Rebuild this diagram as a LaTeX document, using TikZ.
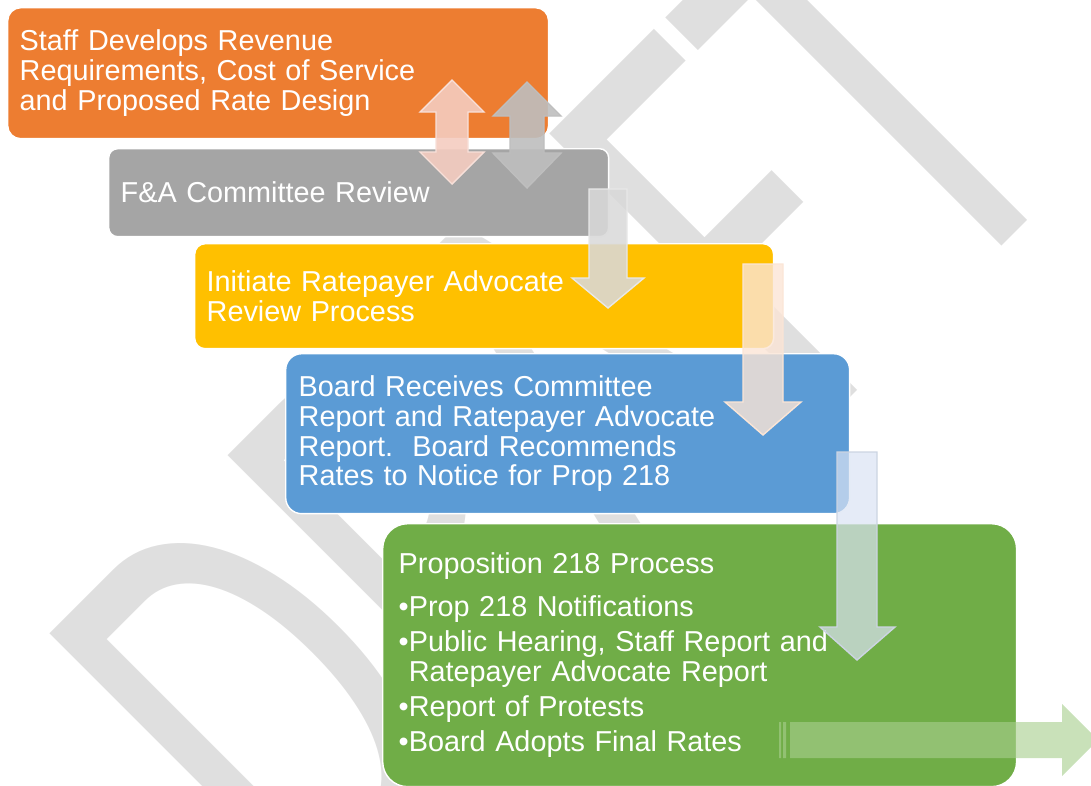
\documentclass[tikz,border=0pt]{standalone}
\usepackage{fontspec}
\setmainfont{Liberation Sans}
\newfontfamily\draftfont{Carlito}
\usepackage{tikz}

\definecolor{stageorange}{HTML}{ED7D31}
\definecolor{stagegray}{HTML}{A5A5A5}
\definecolor{stageyellow}{HTML}{FFC000}
\definecolor{stageblue}{HTML}{5B9BD5}
\definecolor{stagegreen}{HTML}{70AD47}
\definecolor{markgray}{HTML}{DFDFDF}
\definecolor{pinkarrow}{HTML}{F4CCC0}
\definecolor{grayarrow}{HTML}{BEBEBE}
\definecolor{lightarrow}{HTML}{D9D9D9}
\definecolor{peacharrow}{HTML}{FBE5D6}
\definecolor{bluearrow}{HTML}{DAE3F3}
\definecolor{greenarrow}{HTML}{A8CE8E}

\begin{document}
\begin{tikzpicture}[
        x=0.02cm, y=0.02cm,
        stage/.style={draw=white, line width=0.8pt, text=white, align=left,
            anchor=north west, inner ysep=0pt, inner xsep=0.24cm,
            font=\fontsize{16.4}{17}\selectfont},
        watermark/.style={text=markgray, inner sep=0pt, anchor=base west,
            transform shape, font=\draftfont\fontsize{354}{354}\selectfont},
        blockarrow/.style={line width=0.8pt, line join=miter}
    ]
    \useasboundingbox (0,0) rectangle (1091,-785);
    \clip (0,0) rectangle (1091,-785);

    \begin{scope}[shift={(312,-936)}, rotate=45, xscale=0.655]
        \node[watermark] (draftmark) at (0,0) {DRAFT};
    \end{scope}

    \node[stage, fill=stageorange, rounded corners=0.26cm, minimum width=10.82cm,
        minimum height=2.62cm, text width=10.34cm] (develop) at (7,-7)
        {Staff Develops Revenue\\Requirements, Cost of Service\\and Proposed Rate Design};
    \node[stage, fill=stagegray, rounded corners=0.18cm, minimum width=10cm,
        minimum height=1.76cm, text width=9.52cm] (review) at (108,-148)
        {F\&A Committee Review};
    \node[stage, fill=stageyellow, rounded corners=0.21cm, minimum width=11.58cm,
        minimum height=2.1cm, text width=11.1cm] (advocate) at (194,-243)
        {Initiate Ratepayer Advocate\\Review Process};
    \node[stage, fill=stageblue, rounded corners=0.32cm, inner xsep=0.26cm,
        minimum width=11.28cm, minimum height=3.2cm, text width=10.76cm] (board) at (285,-353)
        {Board Receives Committee\\Report and Ratepayer Advocate\\Report.\ \ Board Recommends\\Rates to Notice for Prop 218};
    \node[stage, fill=stagegreen, rounded corners=0.5cm, inner xsep=0.32cm,
        minimum width=12.68cm, minimum height=5.26cm, text width=12.04cm] (prop) at (382,-523)
        {Proposition 218 Process\\[7.4pt]
        •Prop 218 Notifications\\[2.9pt]
        •Public Hearing, Staff Report and\\
        \phantom{•}Ratepayer Advocate Report\\[2.9pt]
        •Report of Protests\\[2.9pt]
        •Board Adopts Final Rates};

    \filldraw[blockarrow, fill=pinkarrow, fill opacity=0.9, draw=pinkarrow!60!white]
        (452,-80) -- (484,-112) -- (468,-112) -- (468,-152) -- (484,-152) -- (452,-184)
        -- (420,-152) -- (436,-152) -- (436,-112) -- (420,-112) -- cycle;
    \filldraw[blockarrow, fill=grayarrow, fill opacity=0.9, draw=grayarrow]
        (527,-82) -- (561,-116) -- (544,-116) -- (544,-153) -- (561,-153) -- (527,-188)
        -- (493,-153) -- (510,-153) -- (510,-116) -- (493,-116) -- cycle;
    \filldraw[blockarrow, fill=lightarrow, fill opacity=0.88, draw=lightarrow!60!white]
        (589,-189) -- (627,-189) -- (627,-278) -- (644,-278) -- (608,-308)
        -- (572,-278) -- (589,-278) -- cycle;
    \filldraw[blockarrow, fill=peacharrow, fill opacity=0.8, draw=peacharrow]
        (743,-264) -- (783,-264) -- (783,-402) -- (801,-402) -- (763,-435)
        -- (725,-402) -- (743,-402) -- cycle;
    \filldraw[blockarrow, fill=bluearrow, fill opacity=0.7, draw=bluearrow!85!gray]
        (837,-452) -- (877,-452) -- (877,-627) -- (895,-627) -- (857,-660)
        -- (820,-627) -- (837,-627) -- cycle;
    \fill[greenarrow, fill opacity=0.62]
        (790,-722) -- (1062,-722) -- (1062,-704) -- (1098,-740) -- (1062,-776)
        -- (1062,-758) -- (790,-758) -- cycle
        (779,-722) rectangle (781,-758)
        (783,-722) rectangle (786,-758);
\end{tikzpicture}
\end{document}
